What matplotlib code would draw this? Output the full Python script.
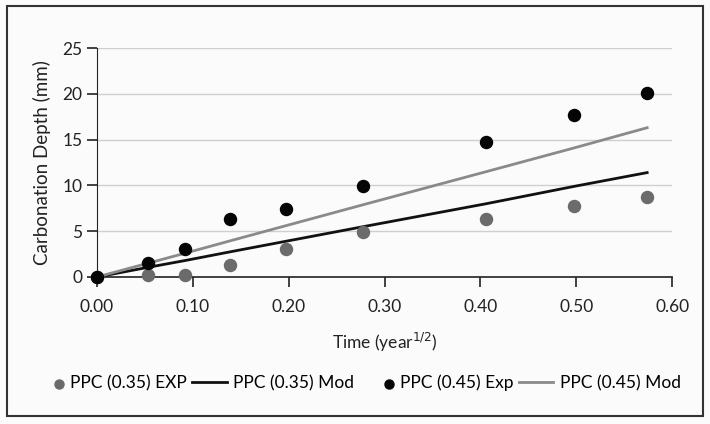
import matplotlib.pyplot as plt
from matplotlib.patches import Rectangle
from matplotlib.legend_handler import HandlerPathCollection

plt.rcParams['font.family'] = ['Lato', 'DejaVu Sans']

time = [0.0, 0.053, 0.092, 0.139, 0.197, 0.278, 0.406, 0.498, 0.574]
ppc35_exp = [0.0, 0.2, 0.2, 1.3, 3.05, 4.9, 6.3, 7.7, 8.7]
ppc35_mod = [0.0, 1.05, 1.8, 2.75, 3.9, 5.5, 8.0, 9.9, 11.4]
ppc45_exp = [0.0, 1.5, 3.05, 6.3, 7.4, 9.9, 14.7, 17.7, 20.1]
ppc45_mod = [0.0, 1.5, 2.6, 3.95, 5.6, 7.9, 11.5, 14.1, 16.3]

xticks = [0.0, 0.1, 0.2, 0.3, 0.4, 0.5, 0.6]
yticks = [0, 5, 10, 15, 20, 25]


class RightDot(HandlerPathCollection):
    # put the legend dot at the right end of the handle box, next to the text
    def get_xdata(self, legend, xdescent, ydescent, width, height, fontsize):
        x = [width - xdescent - 0.3 * fontsize]
        return x, x


fig = plt.figure(figsize=(7.1, 4.24), dpi=100)
fig.patch.set_facecolor('#fbfbfb')
ax = fig.add_axes([0.1366, 0.3467, 0.81, 0.54])
ax.set_facecolor('none')

ax.plot(time, ppc35_mod, color='#111111', lw=2.0, label='PPC (0.35) Mod', zorder=3)
ax.plot(time, ppc45_mod, color='#8a8a8a', lw=2.0, label='PPC (0.45) Mod', zorder=3)
ax.scatter(time, ppc35_exp, s=75, color='#6b6b6b', label='PPC (0.35) EXP', zorder=4, clip_on=False)
ax.scatter(time, ppc45_exp, s=75, color='#050505', label='PPC (0.45) Exp', zorder=5, clip_on=False)

ax.set_xlim(0, 0.6)
ax.set_ylim(0, 25)
ax.set_xticks(xticks)
ax.set_xticklabels([f'{t:.2f}' for t in xticks])
ax.set_yticks(yticks)
ax.yaxis.grid(True, color='#cfcfcf', lw=1)
ax.set_axisbelow(True)
for s in ['top', 'right']:
    ax.spines[s].set_visible(False)
ax.spines['left'].set_color('#222222')
ax.spines['bottom'].set_color('#222222')
ax.spines['bottom'].set_linewidth(1.2)
ax.tick_params(axis='both', labelsize=12.5, colors='#222222', length=7, width=1.2)
ax.tick_params(axis='x', pad=9)
ax.set_ylabel('Carbonation Depth (mm)', fontsize=13.5, color='#222222', labelpad=8)
ax.set_xlabel('Time (year$^{1/2}$)', fontsize=12.5, color='#222222', labelpad=11)

h, l = ax.get_legend_handles_labels()
order = [2, 0, 3, 1]
fig.legend([h[i] for i in order], [l[i] for i in order], loc='center',
           bbox_to_anchor=(0.5, 0.097), ncol=4, frameon=False, fontsize=12.5,
           handlelength=2.0, handletextpad=0.35, columnspacing=0.3, markerscale=0.75,
           handler_map={h[2]: RightDot(), h[3]: RightDot()})

fig.patches.append(Rectangle((0.01, 0.02), 0.98, 0.965, transform=fig.transFigure,
                             fill=False, edgecolor='#333333', lw=1.5))

fig.savefig('out.png', dpi=100)
